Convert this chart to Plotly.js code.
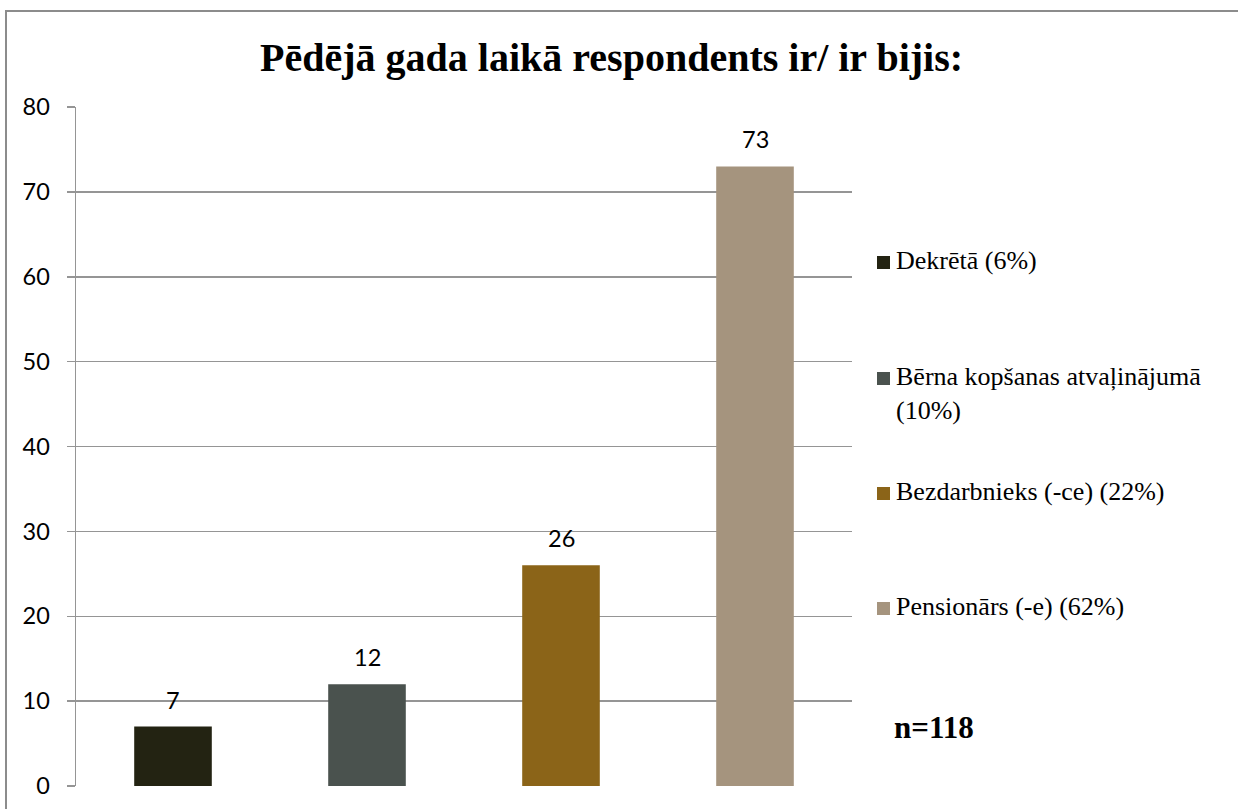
<!DOCTYPE html>
<html>
<head>
<meta charset="utf-8">
<script src="https://cdn.plot.ly/plotly-3.0.1.min.js"></script>
<style>
  html, body { margin: 0; padding: 0; background: #ffffff; overflow: hidden; }
  #chart { position: absolute; left: 0; top: 0; width: 1238px; height: 809px; }
  #frame { position: absolute; left: 5px; top: 10px; width: 1400px; height: 1000px;
           border: 2px solid #8c8c8c; pointer-events: none; }
</style>
</head>
<body>
<div id="chart"></div>
<div id="frame"></div>
<script>
// ---- data ----
const categories = ['Dekrētā', 'Bērna kopšanas atvaļinājumā', 'Bezdarbnieks (-ce)', 'Pensionārs (-e)'];
const values = [7, 12, 26, 73];
const percents = ['6%', '10%', '22%', '62%'];
const legendLabels = ['Dekrētā (6%)', 'Bērna kopšanas atvaļinājumā<br>(10%)', 'Bezdarbnieks (-ce) (22%)', 'Pensionārs (-e) (62%)'];
const colors = ['#232312', '#4a524e', '#8b6418', '#a5947e'];
const yTicks = [0, 10, 20, 30, 40, 50, 60, 70, 80];
const titleText = 'Pēdējā gada laikā respondents ir/ ir bijis:';
const noteText = 'n=118';

// ---- layout geometry (pixels) ----
const W = 1238, H = 809;
const M = { l: 76, r: 386, t: 107, b: 23 };
const plotW = W - M.l - M.r, plotH = H - M.t - M.b;
const px2x = px => (px - M.l) / plotW;
const px2y = py => (H - M.b - py) / plotH;

const legendTops = [262, 378, 493, 608];
const legendSize = 26;
const labelFont = { family: 'Lato, "Open Sans", sans-serif', size: 23.5, color: '#000000' };
const serif = '"Liberation Serif", "Times New Roman", serif';

const trace = {
  type: 'bar',
  x: categories,
  y: values,
  width: 0.4,
  marker: { color: colors, line: { width: 0 } },
  hoverinfo: 'x+y',
  showlegend: false
};

const annotations = [];
// value labels above bars
values.forEach((v, i) => {
  annotations.push({
    x: categories[i], y: v, xref: 'x', yref: 'y',
    text: String(v), showarrow: false,
    yanchor: 'bottom', yshift: 11,
    font: labelFont
  });
});
// legend texts + swatches
const shapes = [];
legendLabels.forEach((lab, i) => {
  annotations.push({
    x: px2x(894), y: px2y(legendTops[i]), xref: 'paper', yref: 'paper',
    text: lab, showarrow: false, xanchor: 'left', yanchor: 'top', align: 'left',
    yshift: Math.round(legendSize * 0.66 + 1),
    font: { family: serif, size: legendSize, color: '#000000' }
  });
  shapes.push({
    type: 'rect', xref: 'paper', yref: 'paper',
    x0: px2x(877), x1: px2x(890),
    y0: px2y(legendTops[i] - 6), y1: px2y(legendTops[i] + 7),
    fillcolor: colors[i], line: { width: 0 }
  });
});
// n=118
annotations.push({
  x: px2x(892), y: px2y(727), xref: 'paper', yref: 'paper',
  text: '<b>' + noteText + '</b>', showarrow: false, xanchor: 'left', yanchor: 'middle',
  font: { family: serif, size: 31, color: '#000000' }
});

const layout = {
  width: W, height: H,
  margin: M,
  paper_bgcolor: '#ffffff', plot_bgcolor: '#ffffff',
  title: {
    text: '<b>' + titleText + '</b>',
    x: 0.494, xanchor: 'center', y: 1 - 57 / H, yanchor: 'middle',
    font: { family: serif, size: 40, color: '#000000' }
  },
  xaxis: {
    type: 'category',
    showticklabels: false, showgrid: false, zeroline: false, showline: false,
    ticks: '', fixedrange: true
  },
  yaxis: {
    range: [0, 80], tickvals: yTicks, ticktext: yTicks.map(String),
    showgrid: true, gridcolor: '#959595', gridwidth: 1.5,
    zeroline: false,
    showline: true, linecolor: '#959595', linewidth: 1.5,
    ticks: 'outside', ticklen: 8, tickcolor: '#959595', tickwidth: 1.5,
    ticklabelstandoff: 12,
    tickfont: labelFont,
    fixedrange: true
  },
  bargap: 0.6,
  annotations: annotations,
  shapes: shapes,
  showlegend: false
};

Plotly.newPlot('chart', [trace], layout, { displayModeBar: false, staticPlot: true });
</script>
</body>
</html>
